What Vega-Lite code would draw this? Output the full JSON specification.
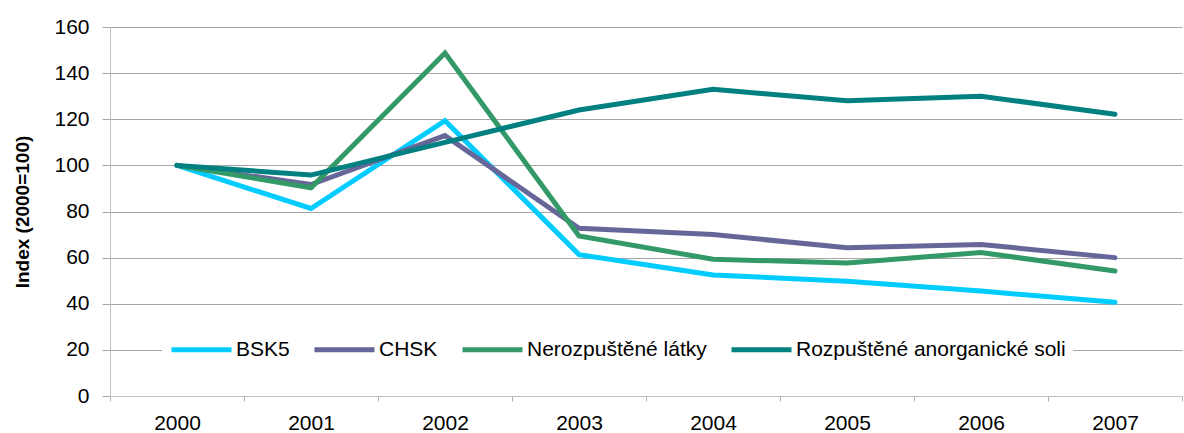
{
  "$schema": "https://vega.github.io/schema/vega-lite/v6.json",
  "width": 1072,
  "height": 369,
  "autosize": "none",
  "padding": {"left": 110, "top": 27, "right": 2, "bottom": 37},
  "background": "white",
  "config": {
    "view": {"stroke": null},
    "font": "Liberation Sans"
  },
  "data": {
    "values": [
      {"year": "2000", "series": "BSK5", "value": 100},
      {"year": "2001", "series": "BSK5", "value": 81.3},
      {"year": "2002", "series": "BSK5", "value": 119.4},
      {"year": "2003", "series": "BSK5", "value": 61.3},
      {"year": "2004", "series": "BSK5", "value": 52.5},
      {"year": "2005", "series": "BSK5", "value": 49.8},
      {"year": "2006", "series": "BSK5", "value": 45.5},
      {"year": "2007", "series": "BSK5", "value": 40.6},
      {"year": "2000", "series": "CHSK", "value": 100},
      {"year": "2001", "series": "CHSK", "value": 91.7},
      {"year": "2002", "series": "CHSK", "value": 112.9},
      {"year": "2003", "series": "CHSK", "value": 72.7},
      {"year": "2004", "series": "CHSK", "value": 70},
      {"year": "2005", "series": "CHSK", "value": 64.3},
      {"year": "2006", "series": "CHSK", "value": 65.7},
      {"year": "2007", "series": "CHSK", "value": 60},
      {"year": "2000", "series": "Nerozpuštěné látky", "value": 100},
      {"year": "2001", "series": "Nerozpuštěné látky", "value": 90.3},
      {"year": "2002", "series": "Nerozpuštěné látky", "value": 148.7},
      {"year": "2003", "series": "Nerozpuštěné látky", "value": 69.4},
      {"year": "2004", "series": "Nerozpuštěné látky", "value": 59.3},
      {"year": "2005", "series": "Nerozpuštěné látky", "value": 57.7},
      {"year": "2006", "series": "Nerozpuštěné látky", "value": 62.2},
      {"year": "2007", "series": "Nerozpuštěné látky", "value": 54.2},
      {"year": "2000", "series": "Rozpuštěné anorganické soli", "value": 100},
      {"year": "2001", "series": "Rozpuštěné anorganické soli", "value": 95.8},
      {"year": "2002", "series": "Rozpuštěné anorganické soli", "value": 110},
      {"year": "2003", "series": "Rozpuštěné anorganické soli", "value": 124},
      {"year": "2004", "series": "Rozpuštěné anorganické soli", "value": 133},
      {"year": "2005", "series": "Rozpuštěné anorganické soli", "value": 128},
      {"year": "2006", "series": "Rozpuštěné anorganické soli", "value": 130},
      {"year": "2007", "series": "Rozpuštěné anorganické soli", "value": 122.2}
    ]
  },
  "mark": {"type": "line", "strokeWidth": 5, "strokeCap": "round"},
  "encoding": {
    "x": {
      "field": "year",
      "type": "ordinal",
      "scale": {"type": "band", "paddingInner": 0, "paddingOuter": 0},
      "axis": {
        "title": null,
        "labelAngle": 0,
        "labelFont": "Liberation Sans",
        "labelFontSize": 21,
        "labelColor": "black",
        "labelPadding": 11,
        "tickBand": "extent",
        "tickSize": 5,
        "tickColor": "#b0b0b0",
        "domainColor": "#c0c0c0",
        "grid": false
      }
    },
    "y": {
      "field": "value",
      "type": "quantitative",
      "scale": {"domain": [0, 160], "nice": false},
      "axis": {
        "values": [0, 20, 40, 60, 80, 100, 120, 140, 160],
        "title": "Index (2000=100)",
        "titleFont": "Liberation Sans",
        "titleFontWeight": "bold",
        "titleFontSize": 19,
        "titleColor": "black",
        "titlePadding": 21,
        "labelFont": "Liberation Sans",
        "labelFontSize": 21,
        "labelColor": "black",
        "labelPadding": 13,
        "tickSize": 8,
        "tickColor": "#a6a6a6",
        "domainColor": "#c0c0c0",
        "grid": true,
        "gridColor": "#a6a6a6"
      }
    },
    "color": {
      "field": "series",
      "type": "nominal",
      "scale": {
        "domain": ["BSK5", "CHSK", "Nerozpuštěné látky", "Rozpuštěné anorganické soli"],
        "range": ["#00CCFF", "#666699", "#339966", "#008080"]
      },
      "legend": {
        "title": null,
        "orient": "none",
        "legendX": 52,
        "legendY": 283,
        "direction": "horizontal",
        "fillColor": "white",
        "padding": 7,
        "symbolType": "stroke",
        "symbolSize": 3600,
        "symbolStrokeWidth": 5,
        "labelFont": "Liberation Sans",
        "labelFontSize": 21,
        "labelColor": "black",
        "labelOffset": 2,
        "labelLimit": 500,
        "columnPadding": 14
      }
    }
  }
}
